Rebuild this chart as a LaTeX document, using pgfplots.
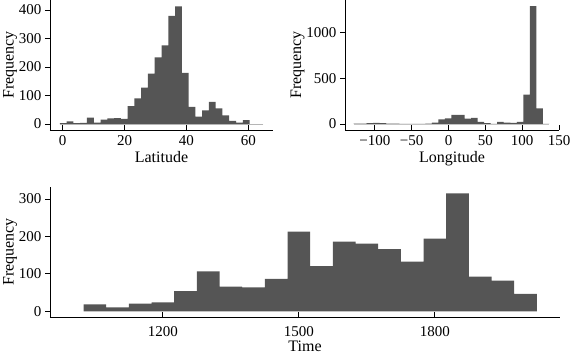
\documentclass[border=0pt]{standalone}
\usepackage{fontspec}
\setmainfont{Liberation Serif}
\usepackage{pgfplots}
\pgfplotsset{compat=1.18}
\definecolor{barc}{RGB}{85,85,85}
\definecolor{basec}{RGB}{195,195,195}
\pgfplotsset{
  hist/.style={
    scale only axis,
    axis x line=bottom, axis y line=left,
    axis line style={-, line width=0.9pt, black},
    xtick align=inside, ytick align=outside,
    major tick length=5pt,
    tick style={line width=0.9pt, black},
    minor tick num=0,
    /pgf/number format/assume math mode=true,
    /pgf/number format/1000 sep={},
    tick label style={font=\fontsize{15}{17}\selectfont},
    xticklabel style={yshift=-2pt},
    label style={font=\fontsize{16}{18}\selectfont},
    ylabel={Frequency},
    xlabel style={yshift=1pt},
    ylabel style={yshift=-5pt},
  }
}
\begin{document}
\begin{tikzpicture}
\useasboundingbox (0,0) rectangle (574pt,356pt);
% Latitude
\begin{axis}[hist, at={(50pt,226pt)}, anchor=south west,
  width=223pt, height=130pt,
  xmin=-4.1, xmax=68, ymin=-21, ymax=435,
  xtick={0,20,40,60}, ytick={0,100,200,300,400},
  xlabel={Latitude}]
\addplot[basec, line width=0.8pt] coordinates {(-0.9,0) (64.8,0)};
\addplot[ybar interval, fill=barc, draw=none] table {
x y
-0.90 3
1.29 9
3.48 3
5.67 4
7.86 22
10.05 5
12.24 15
14.43 20
16.62 21
18.81 18
21.00 63
23.19 90
25.38 128
27.57 177
29.76 234
31.95 276
34.14 379
36.33 413
38.52 179
40.71 60
42.90 26
45.09 48
47.28 78
49.47 55
51.66 30
53.85 11
56.04 5
58.23 14
60.42 0
62.61 0
64.80 0
};
\end{axis}
% Longitude
\begin{axis}[hist, at={(345pt,226pt)}, anchor=south west,
  width=214pt, height=130pt,
  xmin=-140.6, xmax=150, ymin=-66, ymax=1358,
  xtick={-100,-50,0,50,100,150},
  xticklabels={−100,−50,0,50,100,150},
  ytick={0,500,1000},
  xlabel={Longitude}]
\addplot[basec, line width=0.8pt] coordinates {(-129,0) (137,0)};
\addplot[ybar interval, fill=barc, draw=none] table {
x y
-129.0 3
-120.1 5
-111.3 8
-102.4 12
-93.5 8
-84.7 5
-75.8 3
-66.9 2
-58.1 1
-49.2 1
-40.3 1
-31.5 3
-22.6 15
-13.7 51
-4.9 62
4.0 99
12.9 99
21.7 58
30.6 66
39.5 22
48.3 8
57.2 0
66.1 22
74.9 15
83.8 11
92.7 22
101.5 322
110.4 1292
119.3 172
128.1 0
137.0 0
};
\end{axis}
% Time
\begin{axis}[hist, at={(50pt,39pt)}, anchor=south west,
  width=510pt, height=130pt,
  xmin=951, xmax=2076, ymin=-15, ymax=332,
  xtick={1200,1500,1800}, ytick={0,100,200,300},
  xticklabel style={yshift=-4pt},
  xlabel style={yshift=2pt},
  xlabel={Time}]
\addplot[ybar interval, fill=barc, draw=none] table {
x y
1025 19
1075 11
1125 21
1175 24
1225 54
1275 107
1325 66
1375 64
1425 87
1475 213
1525 121
1575 186
1625 181
1675 166
1725 133
1775 194
1825 315
1875 93
1925 82
1975 47
2025 47
};
\end{axis}
\end{tikzpicture}
\end{document}
